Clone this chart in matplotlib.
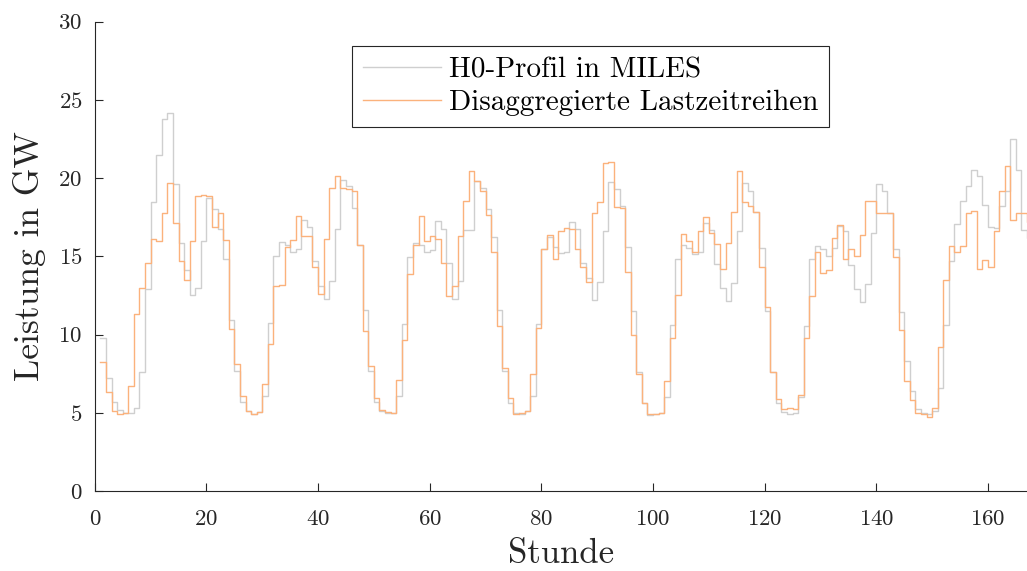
import matplotlib
matplotlib.use("Agg")
import matplotlib.pyplot as plt
import numpy as np

plt.rcParams['font.family'] = ['cmr10', 'DejaVu Serif']
plt.rcParams['mathtext.fontset'] = 'cm'
plt.rcParams['axes.formatter.use_mathtext'] = True

# Stunden 1..168
stunden = np.arange(1, 169)

h0_miles = [
    9.8, 7.2, 5.7, 5.15, 5.0, 5.0, 5.3, 7.6, 12.9, 18.5, 21.5, 23.8, 24.15, 19.6,
    15.85, 14.1, 12.5, 13.0, 16.0, 18.7, 18.0, 16.75, 14.8, 10.9, 7.7, 5.7, 5.1, 4.95,
    5.05, 6.1, 10.75, 15.05, 15.9, 15.75, 15.3, 15.45, 17.3, 16.85, 14.7, 13.1, 12.3, 13.45,
    16.75, 19.9, 19.5, 18.1, 15.7, 11.55, 7.7, 5.7, 5.1, 5.0, 5.0, 6.05, 10.7, 14.95,
    15.85, 15.7, 15.25, 15.4, 17.25, 16.75, 14.55, 12.25, 13.4, 16.7, 16.7, 19.8, 19.35, 18.0,
    16.25, 11.55, 7.65, 5.65, 5.0, 4.95, 5.1, 6.05, 10.7, 15.5, 16.25, 15.6, 15.2, 15.3,
    17.2, 16.75, 14.55, 13.6, 12.2, 13.35, 16.65, 19.75, 19.3, 18.25, 15.6, 11.5, 7.6, 5.6,
    4.85, 4.95, 5.0, 6.0, 10.6, 14.85, 15.75, 15.55, 15.15, 15.25, 17.15, 16.7, 14.5, 13.0,
    12.15, 13.3, 16.6, 19.7, 19.2, 17.85, 15.55, 11.5, 7.6, 5.6, 5.05, 4.9, 5.0, 6.0,
    10.55, 14.8, 15.65, 15.5, 15.05, 15.55, 16.95, 16.6, 14.45, 12.9, 12.1, 13.25, 16.5, 19.6,
    19.15, 17.8, 15.45, 11.45, 8.3, 6.4, 5.25, 5.0, 4.9, 5.1, 6.6, 10.6, 14.7, 17.05,
    18.55, 19.5, 20.55, 20.15, 18.3, 16.9, 16.8, 18.2, 19.2, 22.5, 20.5, 16.7, 16.2, 15.0,
]

disaggregiert = [
    8.25, 6.3, 5.1, 4.9, 5.0, 6.7, 11.3, 12.95, 14.55, 16.1, 16.0, 17.8, 19.7, 17.15,
    14.7, 13.5, 15.95, 18.85, 18.95, 18.85, 16.9, 17.8, 16.05, 10.35, 8.1, 6.05, 5.1, 4.95,
    5.05, 6.85, 9.4, 13.1, 13.15, 15.6, 16.05, 17.6, 16.3, 16.3, 14.3, 12.6, 16.1, 19.35,
    20.15, 19.35, 19.3, 19.15, 15.7, 10.25, 8.0, 5.95, 5.15, 5.05, 5.0, 7.1, 9.65, 13.85,
    15.75, 17.6, 16.0, 16.3, 16.1, 14.55, 12.45, 13.1, 16.3, 18.55, 20.45, 19.8, 19.15, 17.65,
    15.25, 10.55, 7.85, 5.95, 4.95, 5.0, 5.1, 7.45, 10.45, 15.5, 16.35, 14.8, 16.65, 16.8,
    16.75, 15.45, 14.3, 13.35, 17.75, 18.45, 20.95, 21.05, 18.15, 18.1, 14.0, 9.95, 7.45, 5.6,
    4.9, 4.95, 5.0, 7.0, 9.8, 12.5, 16.45, 16.0, 15.3, 16.65, 17.5, 16.5, 15.8, 14.2,
    15.85, 17.85, 20.45, 18.5, 18.2, 17.85, 14.3, 11.75, 7.6, 5.9, 5.25, 5.3, 5.25, 6.15,
    9.8, 12.45, 15.25, 13.95, 14.1, 16.2, 17.0, 14.85, 15.45, 15.05, 16.35, 18.55, 18.55, 17.75,
    17.8, 17.8, 14.95, 10.3, 7.0, 5.8, 5.0, 4.95, 4.75, 5.3, 9.2, 13.5, 15.65, 15.25,
    15.65, 17.75, 17.9, 14.2, 14.75, 14.35, 16.65, 19.2, 20.8, 17.35, 17.75, 17.75, 17.2, 16.0,
]

fig = plt.figure(figsize=(10.27, 5.71), dpi=100)
ax = fig.add_axes([0.0923, 0.1401, 0.9077, 0.8219])

ax.step(stunden, h0_miles, where='post', color='#cfcfcf', lw=1.0,
        label='H0-Profil in MILES')
ax.step(stunden, disaggregiert, where='post', color='#fbb27c', lw=1.0,
        label='Disaggregierte Lastzeitreihen')

ax.set_xlim(0, 167)
ax.set_ylim(0, 30)
ax.set_xticks(np.arange(0, 161, 20))
ax.set_yticks(np.arange(0, 31, 5))

for side in ['top', 'right']:
    ax.spines[side].set_visible(False)
for side in ['left', 'bottom']:
    ax.spines[side].set_color('#262626')
    ax.spines[side].set_linewidth(0.8)
ax.tick_params(direction='in', length=6, width=0.8, colors='#262626',
               labelsize=16.5)
ax.tick_params(axis='x', pad=13)
ax.tick_params(axis='y', pad=9)

ax.set_xlabel('Stunde', fontsize=25, color='#262626', labelpad=7)
ax.set_ylabel('Leistung in GW', fontsize=25.5, color='#262626', labelpad=9)

leg = ax.legend(loc='upper left', bbox_to_anchor=(0.2759, 0.948), fontsize=21,
                frameon=True, fancybox=False, borderaxespad=0, handlelength=2.67,
                handletextpad=0.27, borderpad=0.37, labelspacing=0.23)
leg.get_frame().set_edgecolor('#262626')
leg.get_frame().set_linewidth(0.8)
leg.get_frame().set_alpha(1)

fig.savefig('out.png', dpi=100)
